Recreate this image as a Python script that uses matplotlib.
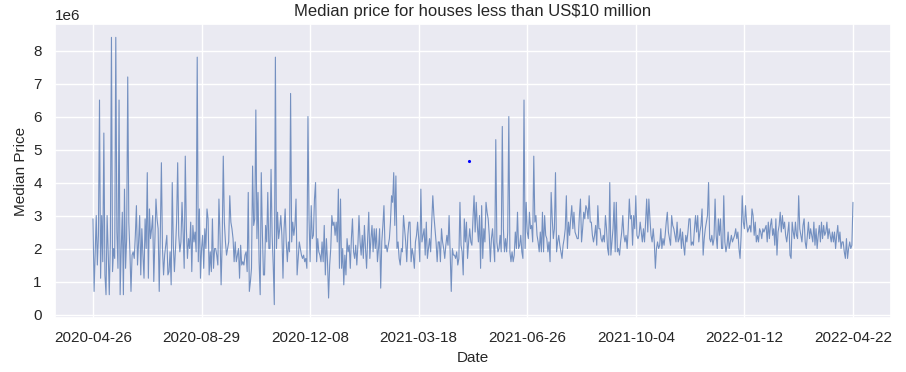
import matplotlib
matplotlib.use("Agg")
import matplotlib.pyplot as plt
import seaborn as sns
import numpy as np

# median price in millions of US$, one value per row, split by tick period
prices_apr_aug_2020 = [
    2.9, 0.7, 1.8, 3.0, 1.5, 2.4, 6.5, 1.1, 3.0, 1.6,
    5.5, 1.2, 0.6, 3.0, 1.9, 0.6, 2.2, 8.4, 1.3, 2.0,
    1.7, 8.4, 2.5, 1.4, 6.5, 0.6, 2.0, 3.1, 0.6, 3.8,
    1.4, 2.3, 7.2, 2.8, 1.9, 0.7, 1.8, 1.9, 1.7, 2.4,
    3.3, 1.5, 2.2, 3.0, 1.2, 2.6, 1.8, 1.1, 2.9, 2.0,
    4.3, 1.1, 3.2, 2.3, 2.6, 3.0, 1.0, 2.2, 3.5, 2.9,
    2.6, 0.7, 2.4, 4.6, 2.0, 1.2, 1.8, 2.1, 2.4, 1.2,
    1.3, 1.9, 0.9, 4.0, 2.1, 1.3, 2.0, 2.8, 4.6, 2.4,
    1.9, 2.2, 3.4, 2.5, 1.4, 4.8, 2.6, 1.7, 2.3, 2.0,
    2.8, 1.3, 2.7, 2.2, 2.5, 1.9, 7.8, 1.6, 3.2, 1.1,
]
prices_aug_dec_2020 = [
    2.0, 2.4, 1.4, 2.6, 2.0, 3.2, 2.9, 1.2, 1.9, 1.3,
    2.9, 1.4, 2.0, 2.0, 1.8, 1.5, 3.5, 2.4, 0.9, 2.2,
    4.8, 2.8, 2.2, 1.8, 2.0, 2.2, 3.6, 2.8, 2.6, 2.3,
    1.6, 2.2, 1.6, 1.8, 2.0, 1.1, 2.1, 1.5, 1.6, 1.5,
    1.8, 1.9, 1.3, 3.7, 0.7, 1.0, 1.4, 4.5, 2.7, 2.9,
    6.2, 2.3, 3.7, 1.6, 0.6, 4.3, 2.5, 1.2, 1.2, 2.7,
    2.2, 3.7, 2.0, 2.0, 4.4, 2.4, 1.5, 0.3, 7.8, 2.0,
    3.1, 2.3, 2.6, 3.0, 2.4, 1.1, 2.6, 3.2, 2.2, 1.6,
    2.2, 1.9, 6.7, 2.2, 2.8, 2.4, 2.7, 3.5, 1.2, 1.7,
    2.2, 2.0, 1.8, 1.7, 1.8, 1.6, 1.7, 1.4, 6.0, 2.9,
]
prices_dec_2020_mar_2021 = [
    1.6, 3.3, 2.3, 2.4, 3.5, 4.0, 1.6, 2.3, 1.9, 1.8,
    1.6, 2.2, 1.6, 2.7, 1.2, 2.3, 1.6, 0.5, 1.5, 2.0,
    3.0, 2.7, 2.8, 2.4, 2.8, 2.2, 3.8, 1.4, 3.5, 1.4,
    2.0, 0.9, 1.8, 1.2, 2.3, 1.9, 2.1, 1.4, 2.3, 2.9,
    1.9, 1.7, 2.1, 1.5, 2.1, 3.0, 2.2, 1.8, 2.4, 1.7,
    2.7, 2.0, 1.4, 2.3, 3.1, 1.7, 2.3, 2.7, 1.9, 2.6,
    2.0, 2.6, 1.6, 2.0, 2.6, 0.8, 2.2, 2.7, 3.3, 2.0,
    2.1, 1.9, 2.1, 2.3, 2.8, 3.6, 3.4, 4.3, 2.7, 4.2,
    2.0, 2.2, 1.7, 1.5, 2.0, 1.9, 3.0, 2.6, 2.2, 1.6,
    2.4, 2.8, 2.8, 1.6, 2.0, 1.8, 1.4, 2.2, 2.4, 2.8,
]
prices_mar_jun_2021 = [
    2.3, 1.6, 3.8, 2.2, 2.4, 2.6, 1.8, 2.8, 1.7, 2.0,
    2.3, 1.9, 2.8, 3.6, 3.0, 2.6, 2.2, 1.6, 2.2, 2.2,
    1.6, 2.6, 2.2, 2.0, 1.7, 2.1, 2.4, 2.1, 3.0, 1.9,
    0.7, 2.0, 1.8, 1.8, 1.7, 1.9, 1.5, 1.7, 3.4, 2.1,
    1.9, 1.2, 2.9, 2.2, 2.8, 1.7, 2.2, 2.6, 2.2, 2.1,
    2.9, 3.6, 2.5, 3.4, 2.7, 2.2, 3.0, 1.4, 3.3, 1.7,
    2.6, 2.2, 3.4, 3.1, 2.9, 2.4, 1.6, 2.3, 2.6, 2.1,
    1.6, 5.3, 2.2, 1.9, 2.0, 2.4, 1.9, 5.7, 2.6, 1.9,
    2.3, 1.9, 2.5, 6.0, 1.9, 1.6, 1.9, 1.6, 1.8, 2.5,
    2.0, 3.1, 2.0, 2.1, 2.4, 1.9, 1.7, 6.5, 2.0, 3.4,
]
prices_jun_oct_2021 = [
    2.5, 2.3, 3.1, 2.6, 2.7, 2.2, 4.8, 2.8, 3.0, 2.4,
    2.2, 1.9, 2.5, 1.9, 3.1, 1.9, 3.0, 2.4, 2.3, 1.9,
    2.2, 1.6, 3.7, 2.9, 2.3, 2.6, 4.3, 1.9, 2.2, 2.4,
    2.1, 1.9, 1.7, 2.1, 2.3, 2.6, 3.6, 2.0, 2.8, 2.4,
    2.9, 3.3, 2.6, 3.1, 2.5, 2.4, 2.3, 2.3, 3.0, 3.5,
    2.2, 2.6, 3.1, 2.9, 3.3, 3.2, 2.9, 3.6, 2.8, 2.8,
    2.4, 2.2, 2.4, 2.7, 2.1, 3.3, 2.6, 2.6, 2.3, 2.2,
    2.4, 2.2, 3.0, 2.6, 2.0, 1.8, 4.0, 1.8, 2.2, 2.6,
    3.4, 1.9, 3.4, 1.9, 2.0, 1.8, 2.2, 2.5, 3.0, 2.4,
    2.2, 2.4, 2.0, 2.6, 3.5, 2.9, 3.0, 2.1, 3.0, 2.6,
]
prices_oct_2021_jan_2022 = [
    3.6, 2.4, 2.3, 2.4, 2.8, 2.5, 2.2, 2.6, 2.2, 2.8,
    3.5, 2.5, 3.5, 2.9, 2.4, 2.2, 2.6, 2.2, 1.4, 2.0,
    2.2, 2.0, 2.1, 2.6, 2.0, 2.3, 2.1, 2.4, 2.8, 3.1,
    2.5, 2.3, 2.1, 3.0, 2.7, 2.6, 2.4, 2.2, 2.8, 2.2,
    2.3, 2.6, 2.0, 2.5, 2.1, 1.8, 2.4, 2.2, 2.5, 2.9,
    2.9, 2.1, 2.2, 2.1, 2.6, 3.0, 2.5, 3.0, 2.2, 2.5,
    2.7, 3.2, 1.8, 2.3, 2.6, 2.8, 3.0, 4.0, 2.3, 2.2,
    2.4, 2.1, 2.3, 3.5, 2.4, 2.0, 2.9, 2.4, 2.9, 2.0,
    2.0, 3.6, 2.2, 1.9, 2.1, 2.5, 2.0, 2.2, 2.4, 2.2,
    2.3, 2.4, 2.6, 2.3, 2.5, 2.0, 1.7, 2.4, 3.6, 2.8,
]
prices_jan_apr_2022 = [
    2.6, 3.3, 2.8, 2.5, 2.6, 2.7, 2.5, 3.2, 3.0, 2.4,
    2.8, 2.2, 2.4, 2.2, 2.6, 2.5, 2.3, 2.6, 2.5, 2.6,
    2.7, 2.2, 2.8, 2.3, 2.7, 2.9, 2.4, 2.6, 2.1, 2.9,
    1.8, 2.5, 2.7, 3.1, 2.5, 3.0, 2.6, 2.8, 2.4, 2.2,
    2.5, 2.8, 1.8, 1.7, 2.8, 2.5, 2.3, 2.8, 2.4, 2.3,
    3.6, 2.6, 2.4, 2.2, 2.7, 2.9, 2.2, 2.0, 2.4, 2.8,
    2.3, 2.6, 2.4, 2.2, 2.8, 2.1, 2.6, 2.0, 2.4, 2.7,
    2.2, 2.8, 2.3, 2.7, 2.4, 2.5, 2.8, 2.3, 2.6, 2.4,
    2.2, 2.5, 2.2, 2.5, 2.0, 2.4, 2.7, 2.2, 2.5, 2.0,
    2.2, 2.2, 1.9, 1.7, 2.3, 1.7, 2.0, 2.2, 2.0, 2.1,
    3.4,
]

tick_labels = ['2020-04-26', '2020-08-29', '2020-12-08', '2021-03-18',
               '2021-06-26', '2021-10-04', '2022-01-12', '2022-04-22']
tick_step = 100

# the lone blue point seen in the middle of the plot
dot_x = 346.5
dot_y = 4.65  # millions

prices = np.array(prices_apr_aug_2020 + prices_aug_dec_2020 + prices_dec_2020_mar_2021
                  + prices_mar_jun_2021 + prices_jun_oct_2021 + prices_oct_2021_jan_2022
                  + prices_jan_apr_2022) * 1e6
x = np.arange(len(prices))

sns.set_theme(style="darkgrid")
plt.rcParams['font.family'] = ['Liberation Sans', 'DejaVu Sans']

fig = plt.figure(figsize=(9.06, 3.72), dpi=100)
ax = fig.add_axes([0.0607, 0.1452, 0.9227, 0.7903])

ax.plot(x, prices, color='#4c72b0', linewidth=0.8, alpha=0.75)
ax.plot([dot_x], [dot_y * 1e6], '.', color='blue', markersize=2.5)

ax.set_xticks(np.arange(0, len(prices), tick_step))
ax.set_xticklabels(tick_labels, fontsize=11)
ax.tick_params(axis='y', labelsize=11)
ax.set_title('Median price for houses less than US$10 million', fontsize=12)
ax.set_xlabel('Date', fontsize=11)
ax.set_ylabel('Median Price', fontsize=11)

fig.savefig('out.png', dpi=100)
